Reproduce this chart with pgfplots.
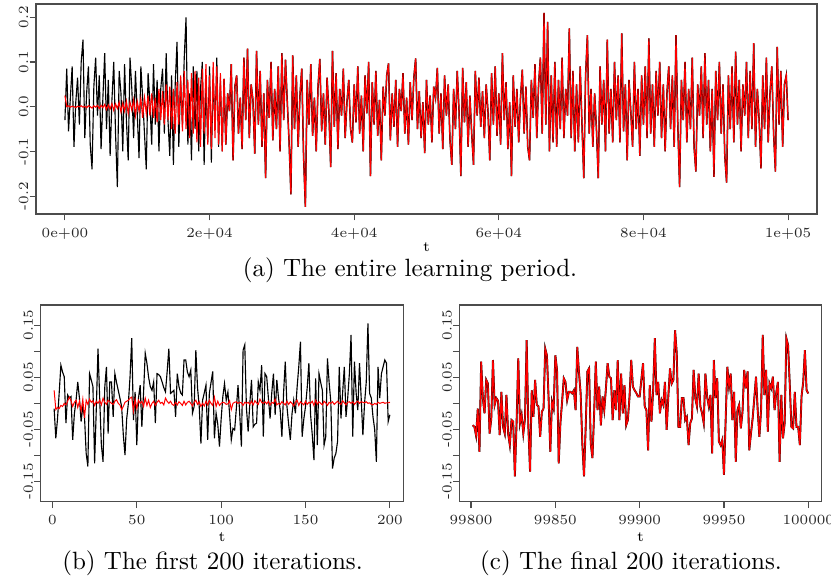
\documentclass[border=0pt]{standalone}
\usepackage{pgfplots}
\pgfplotsset{compat=1.18}
\usepackage{pgfplotstable}

% learning run, t = 0 .. 22000 (black = b, red = r)
\pgfplotstableread[row sep=\\]{
t b r\\
0 -0.030 0.025\\ 250 0.085 0.000\\ 500 -0.055 0.002\\ 750 0.020 -0.001\\ 1000 0.090 0.001\\
1250 -0.090 0.000\\ 1500 0.010 -0.002\\ 1750 0.065 0.001\\ 2000 -0.040 0.000\\ 2250 0.100 0.002\\
2500 0.150 -0.001\\ 2750 -0.070 0.001\\ 3000 0.030 -0.002\\ 3250 0.090 0.002\\ 3500 -0.085 0.000\\
3750 -0.140 -0.003\\ 4000 0.045 0.002\\ 4250 0.110 -0.001\\ 4500 -0.020 0.003\\ 4750 0.070 -0.004\\
5000 -0.095 0.003\\ 5250 0.020 -0.002\\ 5500 0.120 0.005\\ 5750 -0.050 -0.006\\ 6000 0.060 0.004\\
6250 -0.110 -0.005\\ 6500 0.015 0.007\\ 6750 0.100 -0.008\\ 7000 -0.060 0.006\\ 7250 -0.180 -0.004\\
7500 0.080 0.010\\ 7750 0.030 -0.012\\ 8000 -0.100 0.008\\ 8250 0.095 -0.010\\ 8500 -0.030 0.012\\
8750 -0.120 -0.015\\ 9000 0.110 0.010\\ 9250 0.040 -0.008\\ 9500 -0.070 0.015\\ 9750 0.080 -0.020\\
10000 -0.015 0.012\\ 10250 -0.115 -0.010\\ 10500 0.090 0.018\\ 10750 0.020 -0.025\\ 11000 -0.060 0.020\\
11250 -0.140 -0.015\\ 11500 0.075 0.025\\ 11750 0.010 -0.020\\ 12000 -0.085 0.030\\ 12250 0.095 -0.025\\
12500 -0.040 0.020\\ 12750 0.060 -0.035\\ 13000 -0.100 0.040\\ 13250 0.040 -0.030\\ 13500 0.085 0.035\\
13750 -0.060 -0.040\\ 14000 0.120 0.050\\ 14250 -0.030 -0.030\\ 14500 -0.110 0.045\\ 14750 0.070 -0.050\\
15000 -0.130 0.040\\ 15250 0.050 -0.060\\ 15500 0.145 0.055\\ 15750 -0.090 -0.040\\ 16000 0.060 0.070\\
16250 -0.040 -0.055\\ 16500 0.110 0.080\\ 16750 0.200 -0.050\\ 17000 -0.085 0.060\\ 17250 0.030 -0.070\\
17500 -0.120 0.075\\ 17750 0.090 -0.060\\ 18000 -0.050 0.080\\ 18250 0.080 -0.080\\ 18500 -0.100 0.065\\
18750 0.040 -0.090\\ 19000 0.100 0.085\\ 19250 -0.130 -0.060\\ 19500 0.060 0.095\\ 19750 -0.080 -0.085\\
20000 0.090 0.070\\ 20250 -0.125 -0.095\\ 20500 0.070 0.100\\ 20750 -0.050 -0.070\\ 21000 0.110 0.090\\
21250 -0.090 -0.085\\ 21500 0.060 0.075\\ 21750 -0.100 -0.100\\ 22000 0.062 0.062\\
}\early

% t = 22000 .. 100000, both curves nearly the same here
\pgfplotstableread[row sep=\\]{
t y\\
22000 0.062\\ 22250 -0.085\\ 22500 0.030\\ 22750 -0.010\\ 23000 0.095\\ 23250 -0.120\\ 23500 0.045\\ 23750 0.070\\
24000 -0.060\\ 24250 0.020\\ 24500 -0.095\\ 24750 0.110\\ 25000 -0.030\\ 25250 0.130\\ 25500 -0.070\\ 25750 0.050\\
26000 0.015\\ 26250 -0.105\\ 26500 0.125\\ 26750 -0.040\\ 27000 0.080\\ 27250 -0.090\\ 27500 0.030\\ 27750 -0.160\\
28000 0.060\\ 28250 -0.025\\ 28500 0.100\\ 28750 -0.075\\ 29000 0.040\\ 29250 -0.050\\ 29500 0.090\\ 29750 -0.100\\
30000 0.120\\ 30250 -0.030\\ 30500 0.105\\ 30750 0.010\\ 31000 -0.080\\ 31250 -0.196\\ 31500 0.115\\ 31750 -0.050\\
32000 0.070\\ 32250 -0.090\\ 32500 0.025\\ 32750 0.085\\ 33000 -0.110\\ 33250 -0.224\\ 33500 0.060\\ 33750 -0.040\\
34000 0.095\\ 34250 -0.065\\ 34500 0.020\\ 34750 -0.100\\ 35000 0.045\\ 35250 0.107\\ 35500 -0.055\\ 35750 0.030\\
36000 -0.085\\ 36250 0.065\\ 36500 -0.010\\ 36750 -0.135\\ 37000 0.125\\ 37250 -0.045\\ 37500 0.075\\ 37750 -0.095\\
38000 0.040\\ 38250 -0.020\\ 38500 0.085\\ 38750 -0.070\\ 39000 0.010\\ 39250 0.060\\ 39500 -0.050\\ 39750 -0.080\\
40000 0.050\\ 40250 -0.035\\ 40500 0.090\\ 40750 -0.060\\ 41000 0.025\\ 41250 -0.100\\ 41500 0.070\\ 41750 -0.015\\
42000 0.100\\ 42250 -0.155\\ 42500 0.055\\ 42750 -0.040\\ 43000 0.080\\ 43250 -0.065\\ 43500 0.015\\ 43750 -0.120\\
44000 0.045\\ 44250 -0.020\\ 44500 0.070\\ 44750 0.097\\ 45000 -0.075\\ 45250 0.030\\ 45500 -0.045\\ 45750 0.060\\
46000 -0.090\\ 46250 0.040\\ 46500 -0.010\\ 46750 0.075\\ 47000 -0.060\\ 47250 0.020\\ 47500 -0.085\\ 47750 0.055\\
48000 -0.030\\ 48250 0.065\\ 48500 0.108\\ 48750 -0.050\\ 49000 0.035\\ 49250 -0.070\\ 49500 0.010\\ 49750 -0.104\\
50000 0.060\\ 50250 -0.040\\ 50500 0.025\\ 50750 -0.080\\ 51000 0.045\\ 51250 0.020\\ 51500 0.087\\ 51750 -0.060\\
52000 0.030\\ 52250 -0.095\\ 52500 0.070\\ 52750 -0.020\\ 53000 0.050\\ 53250 -0.075\\ 53500 -0.130\\ 53750 0.040\\
54000 -0.050\\ 54250 0.080\\ 54500 -0.010\\ 54750 -0.155\\ 55000 0.087\\ 55250 -0.035\\ 55500 0.055\\ 55750 -0.090\\
56000 0.025\\ 56250 -0.060\\ 56500 -0.130\\ 56750 0.080\\ 57000 -0.020\\ 57250 0.065\\ 57500 -0.045\\ 57750 0.035\\
58000 -0.070\\ 58250 0.050\\ 58500 -0.010\\ 58750 -0.120\\ 59000 0.075\\ 59250 -0.040\\ 59500 0.090\\ 59750 -0.065\\
60000 0.030\\ 60250 -0.085\\ 60500 0.120\\ 60750 -0.030\\ 61000 0.055\\ 61250 -0.095\\ 61500 0.010\\ 61750 -0.155\\
62000 0.070\\ 62250 -0.045\\ 62500 0.040\\ 62750 -0.080\\ 63000 0.020\\ 63250 0.083\\ 63500 -0.060\\ 63750 0.045\\
64000 -0.090\\ 64250 -0.120\\ 64500 0.060\\ 64750 -0.025\\ 65000 0.095\\ 65250 -0.070\\ 65500 0.050\\ 65750 0.110\\
66000 -0.060\\ 66250 0.210\\ 66500 -0.040\\ 66750 0.190\\ 67000 -0.100\\ 67250 0.070\\ 67500 -0.080\\ 67750 0.100\\
68000 -0.090\\ 68250 0.060\\ 68500 -0.050\\ 68750 0.110\\ 69000 -0.070\\ 69250 0.040\\ 69500 -0.020\\ 69750 0.175\\
70000 -0.070\\ 70250 0.080\\ 70500 -0.100\\ 70750 0.050\\ 71000 -0.080\\ 71250 0.090\\ 71500 -0.040\\ 71750 -0.160\\
72000 0.070\\ 72250 0.160\\ 72500 -0.060\\ 72750 0.040\\ 73000 -0.090\\ 73250 0.030\\ 73500 -0.050\\ 73750 -0.160\\
74000 0.090\\ 74250 -0.040\\ 74500 0.060\\ 74750 -0.100\\ 75000 0.150\\ 75250 -0.060\\ 75500 0.040\\ 75750 -0.080\\
76000 0.100\\ 76250 -0.030\\ 76500 0.070\\ 76750 -0.080\\ 77000 0.164\\ 77250 -0.055\\ 77500 0.050\\ 77750 -0.120\\
78000 0.060\\ 78250 -0.010\\ 78500 -0.090\\ 78750 0.100\\ 79000 -0.050\\ 79250 0.040\\ 79500 -0.110\\ 79750 0.070\\
80000 -0.040\\ 80250 0.090\\ 80500 -0.070\\ 80750 0.153\\ 81000 -0.060\\ 81250 0.050\\ 81500 -0.090\\ 81750 0.080\\
82000 -0.020\\ 82250 0.100\\ 82500 -0.070\\ 82750 0.050\\ 83000 -0.100\\ 83250 0.030\\ 83500 0.090\\ 83750 -0.050\\
84000 0.070\\ 84250 -0.090\\ 84500 0.160\\ 84750 -0.040\\ 85000 -0.180\\ 85250 0.060\\ 85500 -0.030\\ 85750 0.100\\
86000 -0.080\\ 86250 0.040\\ 86500 -0.050\\ 86750 0.110\\ 87000 -0.090\\ 87250 -0.145\\ 87500 0.050\\ 87750 -0.020\\
88000 0.090\\ 88250 -0.070\\ 88500 0.120\\ 88750 -0.040\\ 89000 0.060\\ 89250 -0.100\\ 89500 0.040\\ 89750 -0.157\\
90000 0.080\\ 90250 -0.030\\ 90500 0.100\\ 90750 -0.060\\ 91000 0.050\\ 91250 -0.110\\ 91500 -0.170\\ 91750 0.070\\
92000 -0.050\\ 92250 0.090\\ 92500 -0.080\\ 92750 0.123\\ 93000 -0.040\\ 93250 0.060\\ 93500 -0.100\\ 93750 0.050\\
94000 -0.020\\ 94250 0.100\\ 94500 -0.070\\ 94750 0.080\\ 95000 -0.050\\ 95250 0.142\\ 95500 -0.090\\ 95750 0.040\\
96000 -0.030\\ 96250 -0.138\\ 96500 0.070\\ 96750 -0.050\\ 97000 0.110\\ 97250 -0.080\\ 97500 0.030\\ 97750 0.090\\
98000 -0.060\\ 98250 -0.145\\ 98500 0.134\\ 98750 -0.040\\ 99000 0.080\\ 99250 -0.090\\ 99500 0.050\\ 99750 0.070\\
100000 -0.030\\
}\late

% first 200 iterations
\pgfplotstableread[row sep=\\]{
t b r\\
1 -0.010 0.025\\ 2 -0.067 -0.012\\ 3 -0.030 -0.008\\ 4 0.020 -0.010\\ 5 0.073 -0.004\\
6 0.060 -0.006\\ 7 0.051 0.000\\ 8 -0.038 -0.003\\ 9 0.016 0.004\\ 10 0.010 0.012\\
11 0.013 0.005\\ 12 -0.070 -0.006\\ 13 -0.020 0.002\\ 14 0.006 0.006\\ 15 0.041 -0.008\\
16 0.010 0.004\\ 17 -0.035 -0.015\\ 18 -0.006 0.008\\ 19 -0.026 -0.028\\ 20 -0.096 0.006\\
21 -0.121 -0.002\\ 22 0.057 0.008\\ 23 0.045 0.002\\ 24 0.032 0.005\\ 25 -0.115 -0.004\\
26 -0.010 0.004\\ 27 0.105 0.000\\ 28 0.010 0.006\\ 29 -0.080 -0.003\\ 30 -0.112 0.010\\
31 0.030 0.002\\ 32 0.070 -0.002\\ 33 -0.058 0.006\\ 34 0.041 0.003\\ 35 0.041 0.000\\
36 -0.026 -0.002\\ 37 0.057 0.004\\ 38 0.040 0.007\\ 39 0.025 0.000\\ 40 0.010 -0.003\\
41 -0.006 -0.012\\ 42 -0.060 -0.006\\ 43 -0.099 0.002\\ 44 -0.030 0.004\\ 45 0.000 0.006\\
46 0.051 0.010\\ 47 0.125 0.012\\ 48 -0.032 -0.015\\ 49 0.022 0.008\\ 50 -0.080 -0.010\\
51 0.010 0.006\\ 52 0.035 0.000\\ 53 -0.045 0.004\\ 54 0.020 -0.006\\ 55 0.096 0.010\\
56 0.077 -0.004\\ 57 0.050 0.006\\ 58 0.032 -0.008\\ 59 0.025 0.000\\ 60 0.041 0.004\\
61 -0.038 -0.004\\ 62 0.057 0.002\\ 63 0.055 0.006\\ 64 0.051 0.000\\ 65 0.041 0.002\\
66 0.030 -0.003\\ 67 0.022 0.010\\ 68 0.061 0.004\\ 69 0.105 0.000\\ 70 0.019 0.004\\
71 0.022 -0.002\\ 72 0.025 -0.004\\ 73 -0.026 0.002\\ 74 0.057 -0.003\\ 75 0.032 0.003\\
76 0.020 0.000\\ 77 0.016 -0.004\\ 78 0.083 0.004\\ 79 0.083 -0.003\\ 80 0.060 0.002\\
81 0.051 0.004\\ 82 0.064 0.000\\ 83 -0.019 -0.005\\ 84 -0.006 0.002\\ 85 0.102 0.006\\
86 0.030 -0.002\\ 87 -0.006 0.003\\ 88 -0.077 -0.006\\ 89 0.006 0.000\\ 90 0.020 -0.005\\
91 0.035 0.004\\ 92 -0.070 -0.003\\ 93 0.019 0.006\\ 94 0.040 0.000\\ 95 0.061 -0.004\\
96 -0.067 0.012\\ 97 -0.019 -0.006\\ 98 -0.040 0.004\\ 99 -0.083 -0.004\\ 100 -0.030 0.000\\
101 0.013 0.002\\ 102 0.038 0.001\\ 103 0.006 -0.002\\ 104 0.022 -0.001\\ 105 -0.020 0.005\\
106 -0.070 -0.012\\ 107 -0.048 0.000\\ 108 -0.051 0.002\\ 109 -0.010 0.003\\ 110 0.035 0.000\\
111 -0.020 0.002\\ 112 -0.083 0.001\\ 113 0.102 -0.004\\ 114 0.112 0.002\\ 115 -0.010 0.000\\
116 -0.054 0.002\\ 117 0.000 -0.002\\ 118 0.045 0.004\\ 119 -0.045 -0.003\\ 120 -0.040 0.005\\
121 -0.038 0.001\\ 122 0.041 -0.002\\ 123 0.025 0.008\\ 124 0.073 0.002\\ 125 -0.064 0.000\\
126 0.057 0.003\\ 127 0.051 -0.001\\ 128 0.010 0.004\\ 129 -0.029 -0.003\\ 130 0.020 0.002\\
131 0.057 0.000\\ 132 -0.022 0.008\\ 133 0.045 -0.003\\ 134 0.010 0.000\\ 135 -0.013 -0.002\\
136 -0.064 0.003\\ 137 0.020 0.000\\ 138 0.080 -0.003\\ 139 -0.006 0.004\\ 140 -0.040 -0.002\\
141 -0.070 0.003\\ 142 -0.020 0.000\\ 143 0.006 -0.005\\ 144 -0.019 0.002\\ 145 0.030 0.006\\
146 0.070 -0.004\\ 147 0.118 0.003\\ 148 -0.064 0.000\\ 149 -0.030 -0.003\\ 150 -0.006 0.004\\
151 0.030 -0.002\\ 152 0.077 0.002\\ 153 -0.022 0.000\\ 154 -0.060 0.004\\ 155 -0.109 -0.004\\
156 0.048 0.006\\ 157 -0.080 -0.002\\ 158 0.057 0.003\\ 159 0.040 0.000\\ 160 0.025 -0.003\\
161 -0.080 0.004\\ 162 -0.064 0.001\\ 163 0.086 -0.004\\ 164 0.040 0.002\\ 165 0.003 0.000\\
166 -0.125 0.003\\ 167 -0.105 -0.002\\ 168 -0.096 0.001\\ 169 -0.073 0.004\\ 170 0.070 0.000\\
171 -0.029 -0.002\\ 172 0.020 0.005\\ 173 0.070 0.001\\ 174 -0.026 -0.003\\ 175 0.010 0.002\\
176 0.057 0.003\\ 177 0.131 0.000\\ 178 -0.064 0.003\\ 179 0.080 -0.002\\ 180 0.020 0.002\\
181 -0.013 0.004\\ 182 0.077 0.000\\ 183 0.010 0.003\\ 184 -0.061 0.002\\ 185 0.000 0.001\\
186 0.041 0.003\\ 187 0.153 0.000\\ 188 0.019 0.001\\ 189 0.010 -0.002\\ 190 -0.026 -0.003\\
191 -0.050 0.000\\ 192 -0.112 -0.002\\ 193 0.070 0.002\\ 194 0.010 0.000\\ 195 0.057 0.001\\
196 0.070 0.002\\ 197 0.083 0.000\\ 198 0.077 0.001\\ 199 -0.035 0.001\\ 200 -0.022 0.002\\
}\first

% final 200 iterations, n = t - 99800
\pgfplotstableread[row sep=\\]{
n y\\
1 -0.042\\ 2 -0.045\\ 3 -0.062\\ 4 -0.010\\ 5 -0.093\\ 6 0.080\\ 7 0.010\\ 8 -0.019\\ 9 0.045\\ 10 0.038\\
11 -0.058\\ 12 -0.030\\ 13 0.083\\ 14 -0.003\\ 15 0.010\\ 16 0.005\\ 17 -0.061\\ 18 0.022\\ 19 -0.045\\ 20 -0.058\\
21 0.016\\ 22 -0.058\\ 23 -0.080\\ 24 -0.032\\ 25 -0.035\\ 26 -0.140\\ 27 -0.038\\ 28 0.086\\ 29 -0.038\\ 30 -0.022\\
31 -0.058\\ 32 -0.029\\ 33 0.121\\ 34 -0.045\\ 35 -0.131\\ 36 0.025\\ 37 -0.026\\ 38 0.045\\ 39 -0.003\\ 40 -0.006\\
41 -0.064\\ 42 -0.016\\ 43 -0.010\\ 44 0.105\\ 45 0.092\\ 46 0.010\\ 47 -0.093\\ 48 0.003\\ 49 -0.010\\ 50 0.092\\
51 0.064\\ 52 -0.115\\ 53 -0.038\\ 54 0.003\\ 55 0.048\\ 56 0.041\\ 57 0.006\\ 58 0.022\\ 59 0.022\\ 60 0.019\\
61 0.025\\ 62 -0.013\\ 63 0.108\\ 64 0.060\\ 65 0.019\\ 66 -0.077\\ 67 -0.140\\ 68 -0.045\\ 69 0.061\\ 70 0.067\\
71 -0.077\\ 72 -0.105\\ 73 -0.019\\ 74 0.080\\ 75 -0.013\\ 76 0.032\\ 77 -0.042\\ 78 0.013\\ 79 -0.013\\ 80 0.029\\
81 0.077\\ 82 0.051\\ 83 0.048\\ 84 -0.032\\ 85 0.025\\ 86 -0.013\\ 87 0.083\\ 88 -0.032\\ 89 0.057\\ 90 -0.019\\
91 0.035\\ 92 -0.042\\ 93 -0.032\\ 94 0.013\\ 95 0.083\\ 96 0.032\\ 97 0.025\\ 98 0.020\\ 99 0.013\\ 100 0.013\\
101 0.045\\ 102 0.077\\ 103 -0.006\\ 104 -0.013\\ 105 -0.090\\ 106 0.035\\ 107 -0.035\\ 108 0.025\\ 109 0.125\\ 110 0.016\\
111 0.041\\ 112 -0.019\\ 113 0.006\\ 114 -0.003\\ 115 0.041\\ 116 -0.051\\ 117 0.013\\ 118 0.067\\ 119 0.038\\ 120 0.045\\
121 0.140\\ 122 0.096\\ 123 -0.045\\ 124 -0.045\\ 125 0.010\\ 126 0.010\\ 127 -0.032\\ 128 -0.026\\ 129 -0.080\\ 130 -0.038\\
131 -0.029\\ 132 0.064\\ 133 0.010\\ 134 -0.006\\ 135 0.057\\ 136 -0.006\\ 137 -0.019\\ 138 -0.038\\ 139 0.057\\ 140 0.013\\
141 -0.006\\ 142 0.016\\ 143 -0.096\\ 144 0.083\\ 145 0.010\\ 146 0.048\\ 147 -0.073\\ 148 -0.080\\ 149 -0.070\\ 150 -0.137\\
151 -0.032\\ 152 0.070\\ 153 0.032\\ 154 0.057\\ 155 -0.032\\ 156 0.022\\ 157 -0.112\\ 158 -0.013\\ 159 -0.003\\ 160 -0.048\\
161 -0.016\\ 162 0.064\\ 163 0.029\\ 164 0.061\\ 165 -0.090\\ 166 -0.058\\ 167 -0.029\\ 168 0.010\\ 169 0.051\\ 170 -0.013\\
171 -0.064\\ 172 -0.013\\ 173 0.131\\ 174 0.016\\ 175 0.064\\ 176 -0.054\\ 177 0.038\\ 178 0.029\\ 179 0.051\\ 180 -0.013\\
181 0.020\\ 182 0.041\\ 183 -0.112\\ 184 0.016\\ 185 -0.067\\ 186 -0.038\\ 187 0.125\\ 188 0.112\\ 189 0.038\\ 190 -0.045\\
191 -0.048\\ 192 0.022\\ 193 -0.045\\ 194 -0.045\\ 195 -0.080\\ 196 0.013\\ 197 0.041\\ 198 0.102\\ 199 0.025\\ 200 0.019\\
}\final

\pgfplotsset{
  rbase/.style={
    scale only axis,
    anchor=north west,
    axis line style={black!70, line width=0.45pt},
    tick style={black!70, line width=0.45pt},
    major tick length=2.6pt,
    tick align=outside,
    xtick pos=bottom, ytick pos=left,
    minor tick num=0,
    scaled ticks=false,
    ticklabel style={font=\fontsize{5.6}{7}\selectfont, text=black!85, inner sep=1pt},
    yticklabel style={rotate=90, anchor=south, yshift=-0.8pt},
    xlabel={t},
    xlabel style={font=\fontsize{5.8}{7}\selectfont, at={(axis description cs:0.5,0)}, anchor=base},
  }
}

\begin{document}
\begin{tikzpicture}
\useasboundingbox (0,0) rectangle (332.4pt,-231.6pt);

% (a) whole run
\begin{axis}[rbase,
  at={(14.4pt,-1.6pt)}, width=312.4pt, height=84pt,
  xmin=-4000, xmax=104000, ymin=-0.2400, ymax=0.2298,
  xtick={0,20000,40000,60000,80000,100000},
  xticklabels={0e+00,2e+04,4e+04,6e+04,8e+04,1e+05},
  xticklabel shift=2pt,
  ytick={-0.2,-0.1,0,0.1,0.2},
  yticklabels={-0.2,-0.1,0.0,0.1,0.2},
  xlabel style={yshift=-15.2pt},
]
\addplot[black, line width=0.45pt] table[x=t, y=b] {\early};
\addplot[black, line width=0.6pt] table[x=t, y=y] {\late};
\addplot[red, line width=0.45pt] table[x=t, y=r] {\early};
\addplot[red, line width=0.45pt] table[x=t, y=y] {\late};
\end{axis}

% (b) first 200
\begin{axis}[rbase,
  at={(16.28pt,-122pt)}, width=145.04pt, height=78.68pt,
  xmin=-6.96, xmax=207.96, ymin=-0.1885, ymax=0.1885,
  xtick={0,50,100,150,200},
  xticklabels={0,50,100,150,200},
  xticklabel shift=1.8pt,
  ytick={-0.15,-0.1,-0.05,0,0.05,0.1,0.15},
  yticklabels={-0.15,,-0.05,,0.05,,0.15},
  xlabel style={yshift=-16pt},
]
\addplot[black, line width=0.45pt] table[x=t, y=b] {\first};
\addplot[red, line width=0.4pt] table[x=t, y=r] {\first};
\end{axis}

% (c) final 200
\begin{axis}[rbase,
  at={(183.72pt,-122pt)}, width=144.96pt, height=78.68pt,
  xmin=-6.96, xmax=207.96, ymin=-0.1885, ymax=0.1885,
  xtick={0,50,100,150,200},
  xticklabels={99800,99850,99900,99950,100000},
  xticklabel shift=1.8pt,
  ytick={-0.15,-0.1,-0.05,0,0.05,0.1,0.15},
  yticklabels={-0.15,,-0.05,,0.05,,0.15},
  xlabel style={yshift=-16pt},
]
\addplot[black, line width=0.75pt] table[x=n, y=y] {\final};
\addplot[red, line width=0.55pt] table[x=n, y=y] {\final};
\end{axis}

\node[anchor=base] at (164pt,-110.8pt) {(a) The entire learning period.};
\node[anchor=base] at (85pt,-228pt) {(b) The first 200 iterations.};
\node[anchor=base] at (252.4pt,-228pt) {(c) The final 200 iterations.};
\end{tikzpicture}
\end{document}
